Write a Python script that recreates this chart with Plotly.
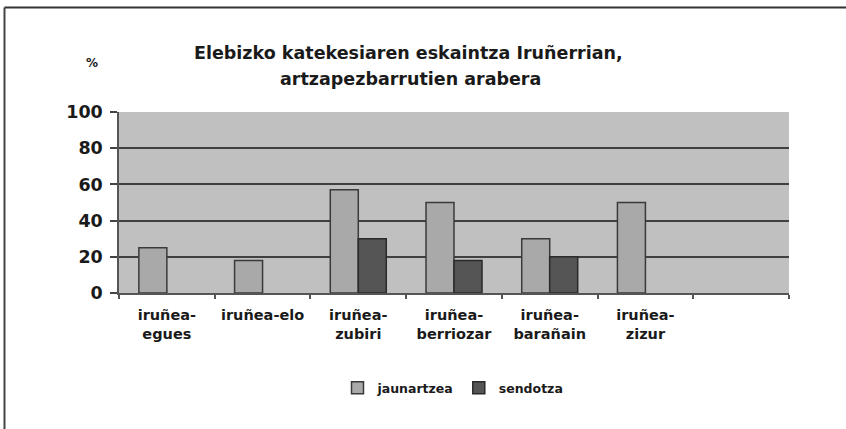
import plotly.graph_objects as go

categories = ["iruñea-egues", "iruñea-elo", "iruñea-zubiri", "iruñea-berriozar",
              "iruñea-barañain", "iruñea-zizur", " "]
tick_labels = ["iruñea-<br>egues", "iruñea-elo", "iruñea-<br>zubiri", "iruñea-<br>berriozar",
               "iruñea-<br>barañain", "iruñea-<br>zizur", ""]
jaunartzea = [25, 18, 57, 50, 30, 50, None]
sendotza = [None, None, 30, 18, 20, None, None]
y_ticks = [0, 20, 40, 60, 80, 100]

FONT = "DejaVu Sans"
W, H = 846, 429
L, R, T, B = 119, 789, 112, 293

def px(x):
    return (x - L) / (R - L)

def py(y):
    return (B - y) / (B - T)

fig = go.Figure()
fig.add_trace(go.Bar(x=categories, y=jaunartzea, name="jaunartzea",
                     marker=dict(color="#a9a9a9", line=dict(color="#3a3a3a", width=1.5))))
fig.add_trace(go.Bar(x=categories, y=sendotza, name="sendotza",
                     marker=dict(color="#555555", line=dict(color="#2a2a2a", width=1.5))))

fig.update_layout(
    width=W, height=H,
    margin=dict(l=L, r=W - R, t=T, b=H - B, pad=0),
    paper_bgcolor="white", plot_bgcolor="#c0c0c0",
    barmode="group", bargap=0.415, bargroupgap=0,
    font=dict(family=FONT, color="#1a1a1a"),
    showlegend=True,
    legend=dict(orientation="h", x=px(453), xanchor="center", y=py(388), yanchor="middle",
                font=dict(family=FONT, size=12.5, color="#1a1a1a", weight="bold"), itemwidth=30,
                bgcolor="rgba(0,0,0,0)", traceorder="normal"),
    xaxis=dict(type="category", range=[-0.5, 6.5], tickmode="array", tickvals=categories,
               ticktext=tick_labels, tickson="boundaries", ticks="outside", ticklen=4,
               tickcolor="#555555", tickwidth=1.5, showline=True, linecolor="#555555", linewidth=2,
               showgrid=False, ticklabelstandoff=8,
               tickfont=dict(family=FONT, size=14.5, color="#1a1a1a", weight="bold"),
               fixedrange=True),
    yaxis=dict(range=[0, 100], tickvals=y_ticks, ticks="outside", ticklen=7, tickwidth=1.5,
               tickcolor="#444444", showline=True, linecolor="#555555", linewidth=1.5,
               showgrid=True, gridcolor="#404040", gridwidth=2, zeroline=False,
               tickfont=dict(family=FONT, size=17.5, color="#1a1a1a", weight="bold"),
               ticklabelstandoff=4),
    annotations=[
        dict(text="<b>Elebizko katekesiaren eskaintza Iruñerrian,</b>", xref="paper", yref="paper",
             x=px(408), y=py(53), xanchor="center", yanchor="middle", showarrow=False,
             font=dict(family=FONT, size=17.5, color="#1a1a1a")),
        dict(text="<b>artzapezbarrutien arabera</b>", xref="paper", yref="paper",
             x=px(410), y=py(79), xanchor="center", yanchor="middle", showarrow=False,
             font=dict(family=FONT, size=17.5, color="#1a1a1a")),
        dict(text="<b>%</b>", xref="paper", yref="paper",
             x=px(92), y=py(63), xanchor="center", yanchor="middle", showarrow=False,
             font=dict(family=FONT, size=12, color="#1a1a1a")),
    ],
    shapes=[
        dict(type="line", xref="paper", yref="paper", x0=px(4.5), x1=px(846), y0=py(7.5), y1=py(7.5),
             line=dict(color="#333333", width=2)),
        dict(type="line", xref="paper", yref="paper", x0=px(4.5), x1=px(4.5), y0=py(7.5), y1=py(429),
             line=dict(color="#444444", width=2)),
    ],
)

fig.write_html("out.html", config={"displayModeBar": False},
               post_script="document.body.style.margin='0';")
